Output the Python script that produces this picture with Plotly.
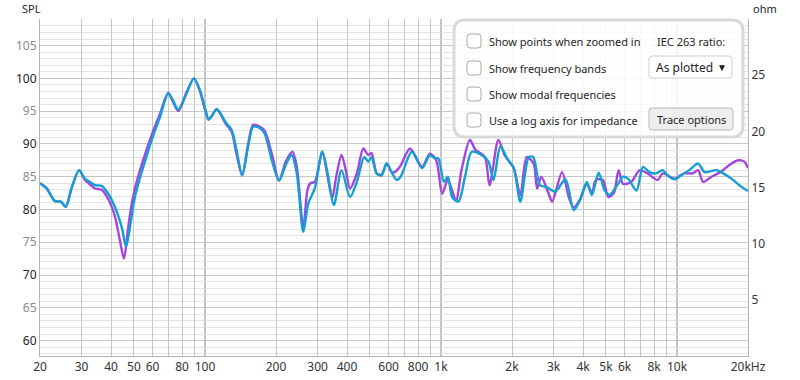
import math
import plotly.graph_objects as go

# ---------------- data ----------------
cyan_freq = [20, 21.3, 23.1, 24.5, 25.7, 27.3, 29.3, 31.0, 32.6, 34.2, 36.5, 38.9, 41.5, 44.4, 46.3,
             48.1, 50.5, 54.8, 60.4, 64.5, 69.9, 73.0, 77.1, 83.6, 89.8, 95.2, 100.5, 103.5, 107, 112,
             116, 121.8, 129.8, 136, 143.8, 152.4, 160, 171, 179, 192, 206, 220, 233, 245, 261, 274,
             292, 314, 331, 352, 379, 412, 440, 473, 492, 508, 534, 560, 589, 618, 649, 675, 752, 832,
             898, 943, 975, 1030, 1070, 1115, 1186, 1265, 1350, 1490, 1590, 1670, 1786, 1905, 2034,
             2170, 2356, 2460, 2630, 2810, 3050, 3370, 3650, 3880, 4150, 4360, 4660, 4940, 5180, 5630,
             5910, 6200, 6740, 7180, 7640, 8160, 8700, 9120, 9760, 10400, 11280, 12300, 13100, 14700,
             15700, 17000, 18400, 20000]
cyan_spl = [84.0, 83.2, 81.3, 81.2, 80.4, 83.4, 86.0, 84.7, 84.2, 83.7, 83.6, 82.4, 80.4, 77.3, 74.3,
            77.3, 81.9, 86.5, 91.3, 94.1, 97.7, 96.7, 95.2, 97.7, 100.0, 98.2, 95.2, 93.7, 94.3, 95.3,
            94.7, 93.4, 92.1, 89.1, 85.2, 89.6, 92.6, 92.4, 91.6, 87.5, 84.4, 86.8, 88.3, 85.5, 76.6, 80.9,
            83.2, 88.8, 85.5, 80.7, 86.0, 81.9, 84.2, 88.0, 87.3, 88.0, 85.5, 85.2, 87.0, 85.7, 84.5, 85.0, 88.8, 86.3,
            88.3, 87.8, 87.8, 84.2, 85.0, 81.9, 81.2, 85.0, 88.8, 88.3, 87.3, 84.5, 89.6, 87.8, 86.3,
            81.2, 88.0, 88.0, 83.7, 83.4, 82.7, 84.6, 79.9, 81.4, 84.2, 82.2, 85.6, 82.9, 82.2, 83.9,
            85.0, 84.7, 82.9, 86.5, 85.7, 85.5, 86.0, 85.2, 84.6, 85.2, 86.0, 87.0, 85.7, 86.0,
            85.5, 84.7, 83.7, 82.8]

purple_freq = [20, 21.3, 23.1, 24.5, 25.7, 27.3, 29.3, 31.0, 32.6, 34.2, 36.5, 38.9, 41.5, 43.5, 45.4,
               47.0, 48.5, 50.5, 54.8, 60.4, 64.5, 69.9, 73.0, 77.1, 83.6, 89.8, 95.2, 100.5, 103.5, 107,
               112, 116, 121.8, 129.8, 136, 143.8, 152.4, 160, 171, 179, 192, 206, 220, 235, 245, 261,
               272, 280, 292, 314, 331, 346, 360, 379, 395, 412, 440, 469, 492, 508, 534, 560, 589, 618,
               636, 670, 740, 832, 898, 955, 1012, 1070, 1158, 1222, 1326, 1400, 1534, 1607, 1752, 1860,
               2034, 2170, 2310, 2470, 2555, 2660, 2860, 2960, 3260, 3480, 3650, 3880, 4150, 4360, 4530,
               4850, 5120, 5400, 5660, 5910, 6400, 6960, 7500, 8290, 8700, 9760, 10730, 11650, 12300,
               12900, 14000, 15300, 16700, 18200, 19300, 20000]
purple_spl = [84.0, 83.3, 81.3, 81.2, 80.4, 83.4, 86.0, 84.5, 83.8, 83.2, 83.0, 81.6, 79.0, 75.5, 72.5,
              76.5, 80.0, 83.2, 87.6, 92.0, 94.6, 97.8, 96.5, 95.0, 97.9, 100.0, 98.0, 95.0, 93.7, 94.3,
              95.3, 94.7, 93.2, 91.8, 88.5, 85.2, 90.0, 92.9, 92.6, 92.0, 88.5, 84.4, 87.3, 88.8, 86.5, 77.2,
              83.0, 84.0, 84.2, 88.8, 85.0, 81.7, 85.0, 88.3, 86.0, 83.2, 85.5, 89.3, 88.3, 88.6, 85.5, 85.3, 87.0, 85.7,
              85.7, 86.5, 89.3, 86.5, 88.5, 87.5, 82.4, 84.5, 81.4, 86.0, 90.6, 89.1, 88.0, 83.7, 90.6, 88.3,
              86.3, 82.2, 88.0, 87.0, 83.2, 85.0, 82.4, 81.2, 85.7, 81.9, 80.3, 81.5, 83.9, 82.5, 84.5,
              84.5, 81.9, 82.5, 86.0, 83.9, 84.2, 86.0, 85.5, 84.5, 85.5, 84.7, 85.5, 85.5, 86.0,
              84.2, 85.0, 85.7, 86.8, 87.5, 87.3, 86.3]

x_grid = [20, 30, 40, 50, 60, 70, 80, 90, 100, 200, 300, 400, 500, 600, 700, 800, 900, 1000,
          2000, 3000, 4000, 5000, 6000, 7000, 8000, 9000, 10000, 20000]
x_labels = ["20", "30", "40", "50", "60", "", "80", "", "100", "200", "300", "400", "", "600", "",
            "800", "", "1k", "2k", "3k", "4k", "5k", "6k", "", "8k", "", "10k", "20kHz"]
x_dark = [100, 1000, 10000]
spl_ticks = [60, 65, 70, 75, 80, 85, 90, 95, 100, 105]
ohm_ticks = [5, 10, 15, 20, 25]
panel_rows = ["Show points when zoomed in", "Show frequency bands",
              "Show modal frequencies", "Use a log axis for impedance"]

# ---------------- layout geometry (pixels) ----------------
W, H = 800, 380
L, R, T, B = 40, 748, 19, 356
FONT = "Noto Sans"
FS = 11


def px(x):
    return (x - L) / (R - L)


def py(y):
    return (B - y) / (B - T)


def rrect(x0, y0, x1, y1, r):
    pts = (f"M{px(x0 + r)},{py(y0)} L{px(x1 - r)},{py(y0)} Q{px(x1)},{py(y0)} {px(x1)},{py(y0 + r)} "
           f"L{px(x1)},{py(y1 - r)} Q{px(x1)},{py(y1)} {px(x1 - r)},{py(y1)} "
           f"L{px(x0 + r)},{py(y1)} Q{px(x0)},{py(y1)} {px(x0)},{py(y1 - r)} "
           f"L{px(x0)},{py(y0 + r)} Q{px(x0)},{py(y0)} {px(x0 + r)},{py(y0)} Z")
    return pts


fig = go.Figure()
fig.add_trace(go.Scatter(x=purple_freq, y=purple_spl, mode="lines",
                         line=dict(color="#a445e0", width=2.4, shape="spline", smoothing=0.8),
                         showlegend=False, hoverinfo="skip"))
fig.add_trace(go.Scatter(x=cyan_freq, y=cyan_spl, mode="lines",
                         line=dict(color="#139fd1", width=2.4, shape="spline", smoothing=0.8),
                         showlegend=False, hoverinfo="skip"))
# empty trace to carry the impedance axis
fig.add_trace(go.Scatter(x=[], y=[], yaxis="y2", showlegend=False, hoverinfo="skip"))

spl_text = []
for v in spl_ticks:
    col = "#222222" if v % 10 == 0 else "#8a8a8a"
    spl_text.append(f"<span style='color:{col}'>{v}</span>")

shapes = []
lx0, lx1 = math.log10(20), math.log10(20000)
for f in x_dark:
    xp = (math.log10(f) - lx0) / (lx1 - lx0)
    shapes.append(dict(type="line", xref="paper", yref="paper", x0=xp, x1=xp, y0=0, y1=1,
                       line=dict(color="#7a7a7a", width=1), layer="below"))

# panel
shapes.append(dict(type="path", xref="paper", yref="paper", path=rrect(454, 20, 743, 137, 11),
                   fillcolor="rgba(255,255,255,0.86)", line=dict(color="#d9d9d9", width=3)))
row_y = [41, 68, 94, 120]
for yy in row_y:
    shapes.append(dict(type="path", xref="paper", yref="paper",
                       path=rrect(467, yy - 7, 481, yy + 7, 3),
                       fillcolor="white", line=dict(color="#a8a8a8", width=1)))
# dropdown
shapes.append(dict(type="path", xref="paper", yref="paper", path=rrect(649, 56, 732, 78, 3),
                   fillcolor="white", line=dict(color="#d0d0d0", width=1)))
# button
shapes.append(dict(type="path", xref="paper", yref="paper", path=rrect(649, 108, 733, 130, 3),
                   fillcolor="#eeeeee", line=dict(color="#b8b8b8", width=1)))

ann = []
for txt, yy in zip(panel_rows, row_y):
    ann.append(dict(x=px(487), y=py(yy), xref="paper", yref="paper", text=txt, showarrow=False,
                    xanchor="left", yanchor="middle", font=dict(family=FONT, size=FS, color="#1e1e1e")))
ann.append(dict(x=px(655), y=py(41), xref="paper", yref="paper", text="IEC 263 ratio:", showarrow=False,
                xanchor="left", yanchor="middle", font=dict(family=FONT, size=FS, color="#1e1e1e")))
ann.append(dict(x=px(654), y=py(67), xref="paper", yref="paper", text="As plotted", showarrow=False,
                xanchor="left", yanchor="middle", font=dict(family=FONT, size=FS + 1, color="#1e1e1e")))
ann.append(dict(x=px(722), y=py(67), xref="paper", yref="paper", text="▼", showarrow=False,
                xanchor="center", yanchor="middle", font=dict(family=FONT, size=10, color="#1e1e1e")))
ann.append(dict(x=px(691), y=py(119), xref="paper", yref="paper", text="Trace options", showarrow=False,
                xanchor="center", yanchor="middle", font=dict(family=FONT, size=FS, color="#1e1e1e")))
ann.append(dict(x=px(20), y=py(8), xref="paper", yref="paper", text="SPL", showarrow=False,
                xanchor="left", yanchor="middle", font=dict(family=FONT, size=FS, color="#222222")))
ann.append(dict(x=px(751), y=py(8), xref="paper", yref="paper", text="ohm", showarrow=False,
                xanchor="left", yanchor="middle", font=dict(family=FONT, size=FS, color="#222222")))

fig.update_layout(
    width=W, height=H,
    margin=dict(l=L, r=W - R, t=T, b=H - B, pad=0, autoexpand=False),
    paper_bgcolor="white", plot_bgcolor="white",
    font=dict(family=FONT, size=FS, color="#333333"),
    xaxis=dict(type="log", range=[lx0, lx1], tickvals=x_grid, ticktext=x_labels, automargin=False,
               showgrid=True, gridcolor="#c6c6c6", gridwidth=1, ticks="", zeroline=False,
               showline=True, linecolor="#b4b4b4", mirror=False,
               tickfont=dict(family=FONT, size=FS + 1, color="#333333")),
    yaxis=dict(range=[57.65, 109.05], tickvals=spl_ticks, ticktext=spl_text, automargin=False,
               showgrid=True, gridcolor="#c6c6c6", gridwidth=1, ticks="", zeroline=False,
               showline=True, linecolor="#b4b4b4",
               minor=dict(dtick=1, tick0=0, showgrid=True, gridcolor="#e3e3e3", gridwidth=1),
               tickfont=dict(family=FONT, size=FS + 1)),
    yaxis2=dict(range=[0, 30], overlaying="y", side="right", tickvals=ohm_ticks, automargin=False,
                showgrid=False, zeroline=False, ticks="", showline=True, linecolor="#b4b4b4",
                tickfont=dict(family=FONT, size=FS + 1, color="#333333")),
    shapes=shapes, annotations=ann,
)

fig.write_html("out.html", config={"displayModeBar": False},
               post_script="document.body.style.margin='0';document.body.style.padding='0';")
